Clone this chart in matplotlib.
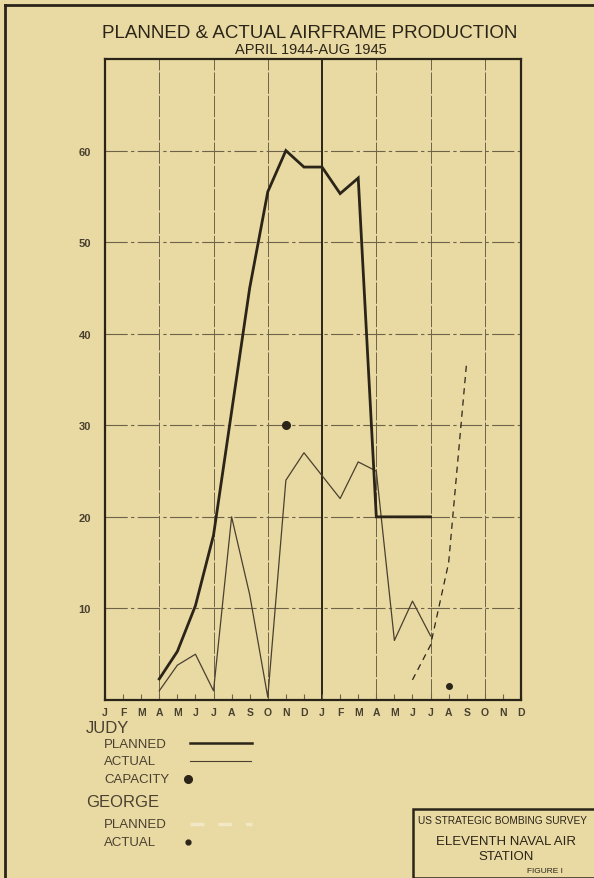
import matplotlib
matplotlib.use("Agg")
import matplotlib.pyplot as plt
from matplotlib.lines import Line2D
from matplotlib.patches import Rectangle

plt.rcParams['font.family'] = ['Liberation Sans', 'DejaVu Sans']

# ---- data ----
month_labels = ['J', 'F', 'M', 'A', 'M', 'J', 'J', 'A', 'S', 'O', 'N', 'D'] * 2
month_index = list(range(24))

judy_idx = list(range(3, 19))          # Apr 1944 .. Jul 1945
judy_planned = [2.3, 5.3, 10.3, 18, 31.5, 45, 55.5, 60, 58.2, 58.2, 55.3, 57, 20, 20, 20, 20]
judy_actual = [1.0, 3.8, 5.0, 1.0, 20, 11.5, 0.3, 24, 27, 24.5, 22, 26, 25, 6.5, 10.8, 7.0]

capacity_idx = [10]                    # Nov 1944
capacity_val = [30]

george_planned_idx = [17, 18, 19, 20]  # Jun .. Sep 1945
george_planned = [2.2, 6, 15, 37]
george_actual_idx = [19]               # Aug 1945
george_actual = [1.5]

y_ticks = [10, 20, 30, 40, 50, 60]
y_tick_labels = ['10', '20', '30', '40', '50', '60']

# ---- style ----
BG = '#E9DAA3'
INK = '#2B2418'
INK2 = '#4A4030'
GRID = '#6E6248'

W, H = 594, 879
fig = plt.figure(figsize=(W / 100, H / 100), dpi=100, facecolor=BG)

def fx(px):
    return px / W

def fy(py):
    return 1 - py / H

ax = fig.add_axes([fx(105), fy(701), fx(521) - fx(105), fy(60) - fy(701)])
ax.set_facecolor(BG)
ax.set_xlim(0, 23)
ax.set_ylim(0, 70)

# grid
for v in y_ticks:
    ax.axhline(v, color=GRID, lw=0.8, ls=(0, (20, 3, 3, 3)), zorder=1)
for i in [3, 6, 9, 15, 18, 21]:
    ax.axvline(i, color=GRID, lw=0.7, ls=(0, (22, 2)), zorder=1)
ax.axvline(12, color=INK, lw=1.4, zorder=1)

# data
ax.plot(judy_idx, judy_planned, color=INK, lw=2.0, zorder=4, solid_joinstyle='miter')
ax.plot(judy_idx, judy_actual, color=INK2, lw=0.9, zorder=3)
ax.plot(capacity_idx, capacity_val, 'o', color=INK, ms=5.5, zorder=5)
ax.plot(george_planned_idx, george_planned, color=INK, lw=0.9, ls=(0, (5, 4)), zorder=3)
ax.plot(george_actual_idx, george_actual, 'o', color=INK, ms=4, zorder=5)

# axes
for s in ['left', 'bottom', 'right', 'top']:
    ax.spines[s].set_color(INK)
    ax.spines[s].set_linewidth(1.6)
ax.set_xticks(month_index)
ax.set_xticklabels(month_labels, fontsize=7.5, fontweight='bold', color=INK2)
ax.tick_params(axis='x', direction='in', length=4, width=0.8, color=GRID, pad=5)
ax.set_yticks(y_ticks)
ax.set_yticklabels(y_tick_labels, fontsize=8, fontweight='bold', color=INK2)
ax.tick_params(axis='y', length=0, pad=10)

# titles
fig.text(fx(310), fy(33), 'PLANNED & ACTUAL AIRFRAME PRODUCTION', ha='center', va='center',
         fontsize=13.5, color=INK)
fig.text(fx(311), fy(50), 'APRIL 1944-AUG 1945', ha='center', va='center',
         fontsize=10.5, color=INK)

# legend
fig.text(fx(86), fy(729), 'JUDY', ha='left', va='center', fontsize=12, color=INK2)
fig.text(fx(104), fy(745), 'PLANNED', ha='left', va='center', fontsize=9.5, color=INK2)
fig.text(fx(104), fy(762), 'ACTUAL', ha='left', va='center', fontsize=9.5, color=INK2)
fig.text(fx(104), fy(780), 'CAPACITY', ha='left', va='center', fontsize=9.5, color=INK2)
fig.text(fx(86), fy(803), 'GEORGE', ha='left', va='center', fontsize=12, color=INK2)
fig.text(fx(104), fy(825), 'PLANNED', ha='left', va='center', fontsize=9.5, color=INK2)
fig.text(fx(104), fy(843), 'ACTUAL', ha='left', va='center', fontsize=9.5, color=INK2)

fig.add_artist(Line2D([fx(190), fx(252)], [fy(744), fy(744)], color=INK, lw=1.8))
fig.add_artist(Line2D([fx(190), fx(251)], [fy(762), fy(762)], color=INK2, lw=0.8))
fig.add_artist(Line2D([fx(188)], [fy(780)], marker='o', color=INK, ms=5.5))
fig.add_artist(Line2D([fx(190), fx(252)], [fy(825), fy(825)], color='#F2E8C6', lw=2.5,
                      ls=(0, (4, 4))))
fig.add_artist(Line2D([fx(188)], [fy(843)], marker='o', color=INK, ms=3.5))

# outer frame
fig.add_artist(Line2D([fx(5), fx(594)], [fy(6), fy(6)], color=INK, lw=2))
fig.add_artist(Line2D([fx(5), fx(5)], [fy(6), fy(879)], color=INK, lw=2))

# survey box
fig.add_artist(Rectangle((fx(413), fy(879)), fx(600) - fx(413), fy(810) - fy(879),
                         fill=False, edgecolor=INK, lw=1.8))
fig.text(fx(503), fy(821), 'US STRATEGIC BOMBING SURVEY', ha='center', va='center',
         fontsize=7.3, color=INK)
fig.text(fx(506), fy(842), 'ELEVENTH NAVAL AIR', ha='center', va='center',
         fontsize=9.5, color=INK)
fig.text(fx(506), fy(857), 'STATION', ha='center', va='center',
         fontsize=9.5, color=INK)
fig.text(fx(545), fy(872), 'FIGURE I', ha='center', va='center',
         fontsize=6, color=INK)

fig.savefig('out.png', dpi=100, facecolor=BG)
